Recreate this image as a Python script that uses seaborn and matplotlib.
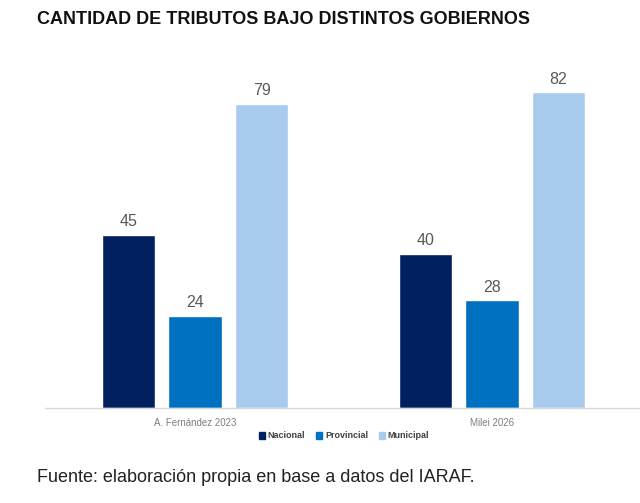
import matplotlib
matplotlib.use("Agg")
import matplotlib.pyplot as plt
import seaborn as sns
import pandas as pd

# datos
gobiernos = ["A. Fernández 2023", "Milei 2026"]
niveles = ["Nacional", "Provincial", "Municipal"]
nacional = [45, 40]
provincial = [24, 28]
municipal = [79, 82]
colores = ["#002060", "#0070C0", "#A9CBEE"]

df = pd.DataFrame({
    "gobierno": gobiernos * 3,
    "nivel": [n for n in niveles for _ in gobiernos],
    "cantidad": nacional + provincial + municipal,
})

sns.set_style("white")
plt.rcParams["font.family"] = ["Liberation Sans", "DejaVu Sans"]

fig = plt.figure(figsize=(6.4, 5.03), dpi=100)
ax = fig.add_axes([45 / 640, 95 / 503, 595 / 640, 346.5 / 503])

sns.barplot(data=df, x="gobierno", y="cantidad", hue="nivel",
            hue_order=niveles, palette=colores, width=0.672, gap=0.2,
            saturation=1, ax=ax, legend=False)

for cont in ax.containers:
    ax.bar_label(cont, padding=4, fontsize=11.5, color="#595959")

ax.set_xlim(-0.505, 1.498)
ax.set_ylim(0, 90)
ax.set_xlabel("")
ax.set_ylabel("")
ax.set_yticks([])
for s in ["top", "right", "left"]:
    ax.spines[s].set_visible(False)
ax.spines["bottom"].set_color("#D9D9D9")
ax.spines["bottom"].set_linewidth(1)
ax.tick_params(axis="x", length=0, pad=7, labelsize=7, labelcolor="#7F7F7F")

handles = [plt.Rectangle((0, 0), 1, 1, color=c) for c in colores]
leg = fig.legend(handles, niveles, loc="center", bbox_to_anchor=(344 / 640, 1 - 436 / 503),
                 ncol=3, frameon=False, fontsize=6.5, handlelength=0.7, handleheight=0.7,
                 columnspacing=1.2, handletextpad=0.3)
for t in leg.get_texts():
    t.set_fontweight("bold")
    t.set_color("#404040")

fig.text(37 / 640, 1 - 19 / 503, "CANTIDAD DE TRIBUTOS BAJO DISTINTOS GOBIERNOS",
         fontsize=13, fontweight="bold", color="#111111", va="center", ha="left")
fig.text(37 / 640, 1 - 477 / 503, "Fuente: elaboración propia en base a datos del IARAF.",
         fontsize=13, color="#222222", va="center", ha="left")

fig.savefig("out.png", dpi=100)
